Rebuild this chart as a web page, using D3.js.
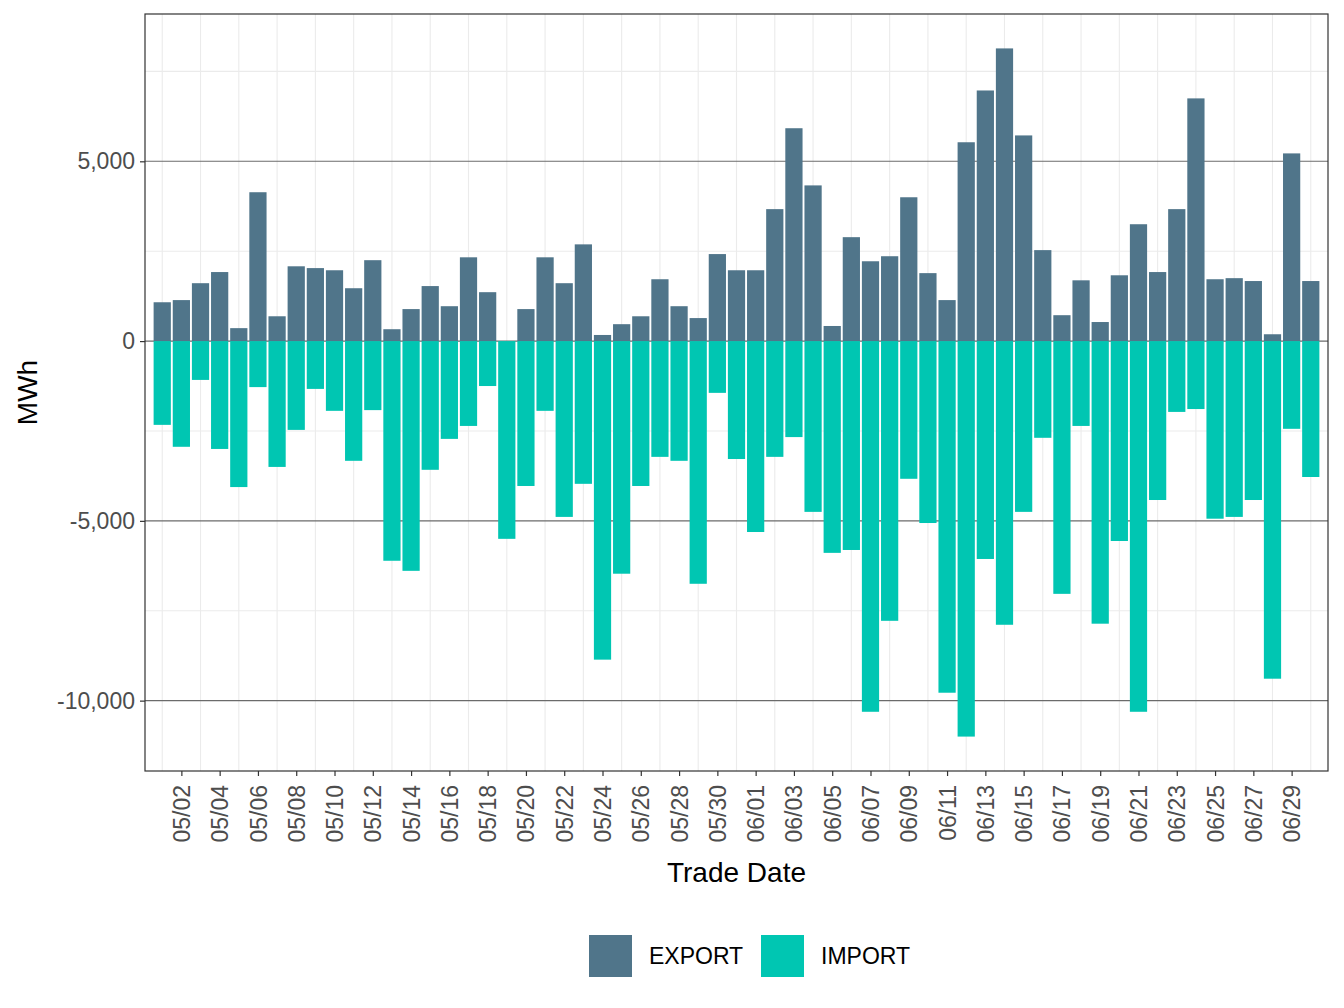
<!DOCTYPE html>
<html>
<head>
<meta charset="utf-8">
<script src="https://cdn.jsdelivr.net/npm/d3@7"></script>
<style>
  body { margin: 0; background: #fff; }
  text { font-family: "Liberation Sans", Arial, sans-serif; }
</style>
</head>
<body>
<svg id="chart"></svg>
<script>
// Trade dates 05/01 .. 06/30
const dates = [
  "05/01","05/02","05/03","05/04","05/05","05/06","05/07","05/08","05/09","05/10",
  "05/11","05/12","05/13","05/14","05/15","05/16","05/17","05/18","05/19","05/20",
  "05/21","05/22","05/23","05/24","05/25","05/26","05/27","05/28","05/29","05/30","05/31",
  "06/01","06/02","06/03","06/04","06/05","06/06","06/07","06/08","06/09","06/10",
  "06/11","06/12","06/13","06/14","06/15","06/16","06/17","06/18","06/19","06/20",
  "06/21","06/22","06/23","06/24","06/25","06/26","06/27","06/28","06/29","06/30"
];

const exportMWh = [
  1080, 1140, 1610, 1920, 360, 4140, 690, 2080, 2030, 1970,
  1470, 2250, 330, 890, 1530, 970, 2330, 1360, 0, 890,
  2330, 1610, 2690, 170, 470, 690, 1720, 970, 640, 2420, 1970,
  1970, 3670, 5920, 4330, 420, 2890, 2220, 2360, 4000, 1890,
  1140, 5530, 6970, 8140, 5720, 2530, 720, 1690, 530, 1830,
  3250, 1920, 3670, 6750, 1720, 1750, 1670, 190, 5220, 1670
];

const importMWh = [
  -2330, -2940, -1080, -3000, -4060, -1280, -3500, -2470, -1330, -1940,
  -3330, -1920, -6110, -6390, -3580, -2720, -2360, -1250, -5500, -4030,
  -1940, -4890, -3970, -8860, -6470, -4030, -3220, -3330, -6750, -1440, -3280,
  -5310, -3220, -2670, -4750, -5890, -5810, -10310, -7780, -3830, -5060,
  -9780, -11000, -6060, -7890, -4750, -2690, -7030, -2360, -7860, -5560,
  -10310, -4420, -1970, -1890, -4940, -4890, -4420, -9390, -2440, -3780
];

const series = ["EXPORT", "IMPORT"];
const colors = ["#50758a", "#00c6b2"];
const yTicks = [-10000, -5000, 0, 5000];
const yMinor = [-7500, -2500, 2500, 7500];

const width = 1344, height = 1008;
const margin = {top: 14, right: 16, bottom: 237, left: 145};
const innerW = width - margin.left - margin.right;
const innerH = height - margin.top - margin.bottom;

const svg = d3.select("#chart").attr("width", width).attr("height", height);
const g = svg.append("g").attr("transform", `translate(${margin.left},${margin.top})`);

// x: day index, continuous, bars 0.9 wide
const x = d3.scaleLinear()
  .domain([-0.9, dates.length - 1 + 0.9])
  .range([0, innerW]);
const barW = x(0.9) - x(0);

const lo = d3.min(importMWh), hi = d3.max(exportMWh);
const pad = (hi - lo) * 0.05;
const y = d3.scaleLinear().domain([lo - pad, hi + pad]).range([innerH, 0]);

// grid
g.selectAll(".vgrid").data(d3.range(0, dates.length, 2))
  .enter().append("line")
  .attr("x1", d => x(d)).attr("x2", d => x(d))
  .attr("y1", 0).attr("y2", innerH)
  .attr("stroke", "#ebebeb").attr("stroke-width", 1.1);

g.selectAll(".hminor").data(yMinor)
  .enter().append("line")
  .attr("x1", 0).attr("x2", innerW)
  .attr("y1", d => y(d)).attr("y2", d => y(d))
  .attr("stroke", "#ebebeb").attr("stroke-width", 1.1);

g.selectAll(".hmajor").data(yTicks)
  .enter().append("line")
  .attr("x1", 0).attr("x2", innerW)
  .attr("y1", d => y(d)).attr("y2", d => y(d))
  .attr("stroke", "#6b6b6b").attr("stroke-width", 1.1);

// bars
g.selectAll(".exp").data(exportMWh)
  .enter().append("rect")
  .attr("x", (d, i) => x(i) - barW / 2)
  .attr("width", barW)
  .attr("y", d => y(Math.max(d, 0)))
  .attr("height", d => Math.abs(y(d) - y(0)))
  .attr("fill", colors[0]);

g.selectAll(".imp").data(importMWh)
  .enter().append("rect")
  .attr("x", (d, i) => x(i) - barW / 2)
  .attr("width", barW)
  .attr("y", y(0))
  .attr("height", d => Math.abs(y(d) - y(0)))
  .attr("fill", colors[1]);

// panel border
g.append("rect")
  .attr("width", innerW).attr("height", innerH)
  .attr("fill", "none").attr("stroke", "#333").attr("stroke-width", 1.2);

// y axis (hyphen minus like the original)
const fmt = d3.format(",");
const yAxis = g.append("g")
  .call(d3.axisLeft(y).tickValues(yTicks)
    .tickFormat(d => fmt(d).replace("\u2212", "-")).tickSize(5).tickSizeOuter(0));
yAxis.select(".domain").remove();
yAxis.selectAll("line").attr("stroke", "#333").attr("stroke-width", 1.2);
yAxis.selectAll("text").attr("fill", "#4d4d4d").style("font-size", "23px").attr("dx", "-2px");

// x axis
const xTickIdx = d3.range(1, dates.length, 2);
const xAxis = g.append("g")
  .attr("transform", `translate(0,${innerH})`)
  .call(d3.axisBottom(x).tickValues(xTickIdx).tickFormat(i => dates[i]).tickSize(5).tickSizeOuter(0));
xAxis.select(".domain").remove();
xAxis.selectAll("line").attr("stroke", "#333").attr("stroke-width", 1.2);
xAxis.selectAll("text")
  .attr("fill", "#4d4d4d").style("font-size", "23px")
  .attr("transform", "rotate(-90)")
  .attr("text-anchor", "end")
  .attr("x", -14).attr("y", 0).attr("dy", "0.35em");

// axis titles
svg.append("text")
  .attr("x", margin.left + innerW / 2).attr("y", 882)
  .attr("text-anchor", "middle").style("font-size", "28px").attr("fill", "#000")
  .text("Trade Date");

svg.append("text")
  .attr("transform", `translate(37,${margin.top + innerH / 2}) rotate(-90)`)
  .attr("text-anchor", "middle").style("font-size", "28px").attr("fill", "#000")
  .text("MWh");

// legend
const legend = svg.append("g").attr("transform", "translate(589,935)");
const legX = [0, 172];
series.forEach((s, i) => {
  const lg = legend.append("g").attr("transform", `translate(${legX[i]},0)`);
  lg.append("rect").attr("width", 43).attr("height", 42).attr("fill", colors[i]);
  lg.append("text").attr("x", 60).attr("y", 21).attr("dy", "0.35em")
    .style("font-size", "23px").attr("fill", "#000").text(s);
});
</script>
</body>
</html>
